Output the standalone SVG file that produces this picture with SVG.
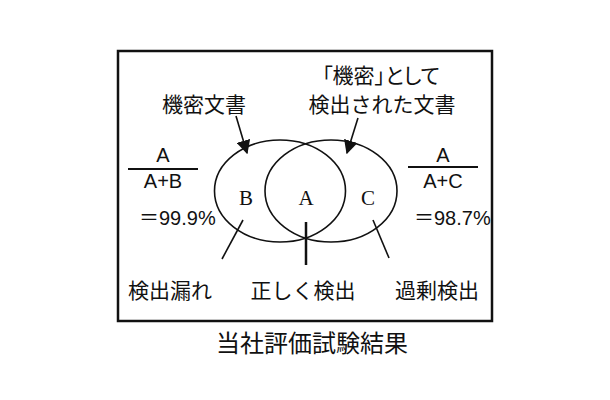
<svg xmlns="http://www.w3.org/2000/svg" width="610" height="400" viewBox="0 0 610 400">
<style>
.jp{font-family:"Noto Sans CJK JP","Noto Sans CJK SC",sans-serif;font-size:21px;fill:#111;text-anchor:middle}
.cap{font-size:24px}
.palt{font-feature-settings:"palt"}
.sans{font-family:"Liberation Sans",Arial,sans-serif;font-size:20px;fill:#111}
.eq{font-family:"Noto Sans CJK JP",sans-serif;font-size:20px}
.ser{font-family:"Liberation Serif","Times New Roman",serif;font-size:21px;fill:#111;text-anchor:middle}
.ln{stroke:#111;stroke-width:1.6;fill:none}
</style>
<defs>
<marker id="ah2" viewBox="0 0 10 10" refX="9" refY="5" markerWidth="14" markerHeight="14" orient="auto" markerUnits="userSpaceOnUse">
<path d="M0,0 L10,5 L0,10 z" fill="#111"/>
</marker>
</defs>
<rect x="0" y="0" width="610" height="400" fill="#fff"/>
<rect x="118" y="51" width="374" height="270" fill="none" stroke="#111" stroke-width="2.5"/>
<g id="set-confidential">
<ellipse cx="280" cy="191" rx="65.5" ry="51" class="ln"/>
<text x="246" y="205" class="ser">B</text>
</g>
<g id="set-detected">
<ellipse cx="331" cy="191" rx="66" ry="51" class="ln"/>
<text x="368" y="205" class="ser">C</text>
</g>
<g id="intersection">
<text x="306" y="205" class="ser">A</text>
</g>
<g id="label-confidential"><text x="204" y="112" class="jp">機密文書</text></g>
<g id="label-detected">
<text x="381" y="83" class="jp palt">「機密」として</text>
<text x="382" y="112" class="jp">検出された文書</text>
</g>
<g id="formula-left">
<text x="163" y="162" class="sans" text-anchor="middle">A</text>
<line x1="128" y1="169" x2="198" y2="169" stroke="#111" stroke-width="2"/>
<text x="163" y="188" class="sans" text-anchor="middle">A+B</text>
<text x="139" y="225" class="sans"><tspan class="eq">＝</tspan>99.9%</text>
</g>
<g id="formula-right">
<text x="443" y="162" class="sans" text-anchor="middle">A</text>
<line x1="408" y1="167" x2="478" y2="167" stroke="#111" stroke-width="2"/>
<text x="443" y="188" class="sans" text-anchor="middle">A+C</text>
<text x="414" y="225" class="sans"><tspan class="eq">＝</tspan>98.7%</text>
</g>
<g id="label-miss"><text x="170" y="298" class="jp">検出漏れ</text></g>
<g id="label-correct"><text x="303" y="298" class="jp">正しく検出</text></g>
<g id="label-over"><text x="437" y="298" class="jp">過剰検出</text></g>
<g id="caption"><text x="312" y="352" class="jp cap">当社評価試験結果</text></g>
<g id="connectors">
<line x1="236" y1="116" x2="247" y2="153" stroke="#111" stroke-width="1.6" marker-end="url(#ah2)"/>
<line x1="358" y1="118" x2="347" y2="153" stroke="#111" stroke-width="1.6" marker-end="url(#ah2)"/>
<line x1="243" y1="220" x2="222" y2="259" class="ln"/>
<line x1="306" y1="222" x2="306" y2="265" stroke="#111" stroke-width="2.5"/>
<line x1="373" y1="220" x2="389" y2="258" class="ln"/>
</g>
</svg>
